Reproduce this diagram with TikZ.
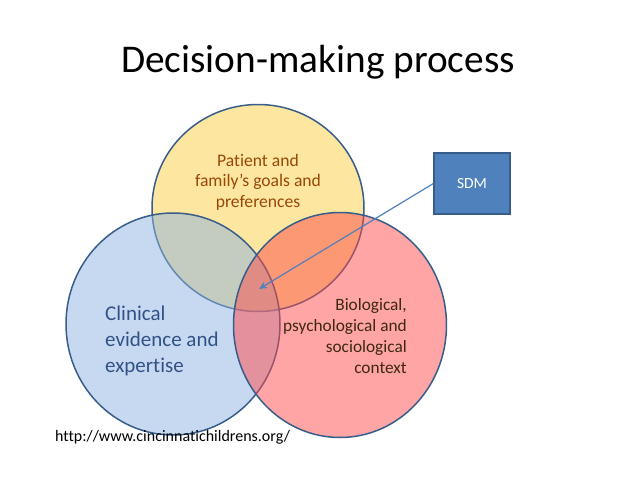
\documentclass[tikz,border=0pt]{standalone}
\usepackage{fontspec}
\setmainfont{Carlito}[Ligatures=NoCommon]
\usepackage{xcolor}
\usetikzlibrary{shapes.geometric,arrows.meta}

\definecolor{ringline}{RGB}{56,93,138}
\definecolor{prefill}{RGB}{251,205,65}
\definecolor{clinfill}{RGB}{141,179,225}
\definecolor{biofill}{RGB}{255,75,75}
\definecolor{sdmfill}{RGB}{79,129,189}
\definecolor{sdmline}{RGB}{56,93,138}
\definecolor{preftext}{RGB}{152,72,7}
\definecolor{clintext}{RGB}{50,82,135}
\definecolor{biotext}{RGB}{60,40,20}

\begin{document}
\begin{tikzpicture}[
  x=1pt, y=-1pt,
  every node/.append style={
    inner sep=0pt,
    font=\fontsize{16}{20.5}\selectfont
  },
  ring/.style={
    ellipse,
    draw=ringline,
    line width=1.5pt,
    fill opacity=0.5
  },
  sdm box/.style={
    draw=sdmline,
    line width=1.2pt,
    fill=sdmfill,
    text=white,
    minimum width=76,
    minimum height=61,
    font=\fontsize{15.5}{18}\selectfont
  }
]
\useasboundingbox (0,0) rectangle (638,479);

\node (title) at (318,62) {\fontsize{39.3}{44}\selectfont Decision-making process};

% the three circles
\node[ring, fill=prefill, minimum width=212, minimum height=207] (pref) at (258,208) {};
\node[ring, fill=clinfill, minimum width=214, minimum height=222] (clin) at (173,324) {};
\node[ring, fill=biofill, minimum width=213, minimum height=225] (bio) at (340,325) {};

\node[align=center, text=preftext, font=\fontsize{17.6}{20.5}\selectfont] (preftxt) at (258,182)
  {Patient and\\ family’s goals and\\ preferences};
\node[align=left, anchor=west, text=clintext, font=\fontsize{21}{26}\selectfont] (clintxt) at (105,341)
  {Clinical\\ evidence and\\ expertise};
\node[align=right, anchor=east, text=biotext, font=\fontsize{17.3}{21.2}\selectfont] (biotxt) at (407,336)
  {Biological,\\ psychological and\\ sociological\\ context};

\node[sdm box] (sdm) at (472,183.5) {SDM};
\coordinate (core) at (259,289);
\draw[sdmfill, line width=1.2pt, -{Stealth[length=8pt,width=7pt]}] (sdm.west) -- (core);

\node[anchor=west] (url) at (55,437) {http://www.cincinnatichildrens.org/};
\end{tikzpicture}
\end{document}
